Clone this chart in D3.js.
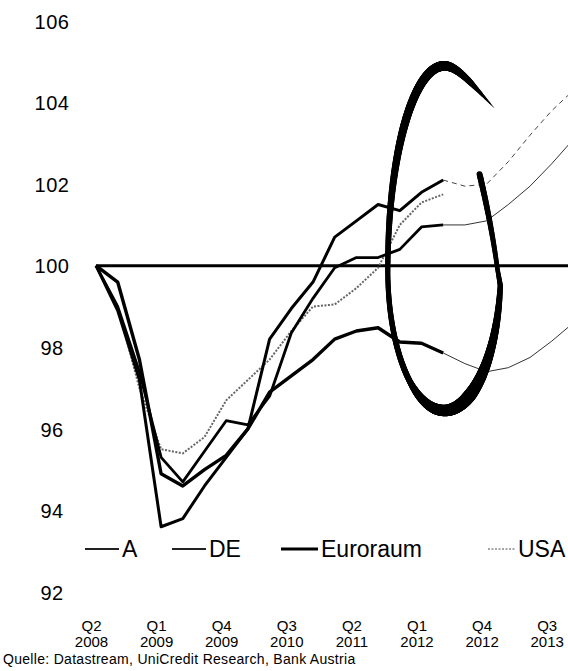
<!DOCTYPE html>
<html>
<head>
<meta charset="utf-8">
<script src="https://cdn.jsdelivr.net/npm/d3@7"></script>
<style>
  body { margin: 0; background: #fff; }
  svg { display: block; }
  text { font-family: "Liberation Sans", Arial, sans-serif; fill: #000; }
</style>
</head>
<body>
<svg id="chart" width="568" height="671"></svg>
<script>
// quarters, Q2 2008 = 100
const quarters = ["Q2 2008","Q3 2008","Q4 2008","Q1 2009","Q2 2009","Q3 2009","Q4 2009",
  "Q1 2010","Q2 2010","Q3 2010","Q4 2010","Q1 2011","Q2 2011","Q3 2011","Q4 2011",
  "Q1 2012","Q2 2012","Q3 2012","Q4 2012","Q1 2013","Q2 2013","Q3 2013","Q4 2013"];
const tickQuarters = ["Q2 2008","Q1 2009","Q4 2009","Q3 2010","Q2 2011","Q1 2012","Q4 2012","Q3 2013"];
const yTicks = [92, 94, 96, 98, 100, 102, 104, 106];

// actual values Q2 2008 .. Q2 2012
const valA   = [100, 99.0, 97.4, 95.3, 94.7, 95.45, 96.2, 96.1, 96.8, 98.35, 99.2, 99.95, 100.2, 100.2, 100.4, 100.95, 101.0];
const valDE  = [100, 98.9, 97.2, 93.6, 93.8, 94.6, 95.3, 96.0, 98.2, 98.95, 99.6, 100.7, 101.1, 101.5, 101.35, 101.8, 102.1];
const valEU  = [100, 99.6, 97.7, 94.9, 94.6, 95.0, 95.35, 96.0, 96.9, 97.3, 97.7, 98.2, 98.4, 98.48, 98.13, 98.1, 97.86];
const valUSA = [100, 99.0, 97.0, 95.5, 95.4, 95.8, 96.7, 97.2, 97.7, 98.4, 99.0, 99.05, 99.45, 99.95, 101.0, 101.55, 101.75];

// forecasts Q2 2012 .. Q4 2013
const fcA  = [101.0, 101.0, 101.1, 101.5, 101.95, 102.5, 103.1];
const fcDE = [102.1, 101.95, 102.0, 102.55, 103.2, 103.8, 104.3];
const fcEU = [97.86, 97.6, 97.4, 97.5, 97.75, 98.15, 98.6];

const legendNames = ["A", "DE", "Euroraum", "USA"];
const source = "Quelle: Datastream, UniCredit Research, Bank Austria";

const svg = d3.select('#chart');
const x = d3.scalePoint().domain(quarters).range([96, 573.4]);
const y = d3.scaleLinear().domain([92, 106]).range([592, 21]);

const line = d3.line().x(d => x(d[0])).y(d => y(d[1]));
const pairs = (vals, start) => vals.map((v, i) => [quarters[start + i], v]);

// y axis labels (centred)
const yAxis = svg.append('g')
  .attr('transform', 'translate(52,0)')
  .call(d3.axisLeft(y).tickValues(yTicks).tickSize(0).tickPadding(0));
yAxis.select('.domain').remove();
yAxis.attr('font-family', null).attr('font-size', 20).attr('text-anchor', 'middle');
yAxis.selectAll('text').attr('x', 0).attr('dy', '0.36em').attr('letter-spacing', '0.5px');

// x axis labels, two lines
const xAxis = svg.append('g')
  .attr('transform', 'translate(0,612)')
  .call(d3.axisBottom(x).tickValues(tickQuarters).tickSize(0).tickPadding(0));
xAxis.select('.domain').remove();
xAxis.attr('font-family', null).attr('font-size', 15);
xAxis.selectAll('text').attr('dy', null).text(null).each(function(d) {
  const parts = d.split(' ');
  const t = d3.select(this);
  t.append('tspan').attr('x', -5).attr('y', 19).text(parts[0]);
  t.append('tspan').attr('x', -5).attr('y', 35).text(parts[1]);
});

// 100 reference line
svg.append('line')
  .attr('x1', x(quarters[0])).attr('x2', 568)
  .attr('y1', y(100)).attr('y2', y(100))
  .attr('stroke', '#000').attr('stroke-width', 3);

// forecasts (thin)
svg.append('path').datum(pairs(fcEU, 16)).attr('d', line)
  .attr('fill', 'none').attr('stroke', '#333').attr('stroke-width', 1);
svg.append('path').datum(pairs(fcA, 16)).attr('d', line)
  .attr('fill', 'none').attr('stroke', '#333').attr('stroke-width', 1);
svg.append('path').datum(pairs(fcDE, 16)).attr('d', line)
  .attr('fill', 'none').attr('stroke', '#444').attr('stroke-width', 1)
  .attr('stroke-dasharray', '5,4');

// actual series
svg.append('path').datum(pairs(valUSA, 0)).attr('d', line)
  .attr('fill', 'none').attr('stroke', '#666').attr('stroke-width', 2)
  .attr('stroke-dasharray', '2,1.5');
svg.append('path').datum(pairs(valEU, 0)).attr('d', line)
  .attr('fill', 'none').attr('stroke', '#000').attr('stroke-width', 3.4)
  .attr('stroke-linejoin', 'round');
svg.append('path').datum(pairs(valA, 0)).attr('d', line)
  .attr('fill', 'none').attr('stroke', '#000').attr('stroke-width', 2.8)
  .attr('stroke-linejoin', 'round');
svg.append('path').datum(pairs(valDE, 0)).attr('d', line)
  .attr('fill', 'none').attr('stroke', '#000').attr('stroke-width', 3)
  .attr('stroke-linejoin', 'round');

// the brush-stroke ring around the latest data, drawn as short round-capped pieces
function drawRing() {
  const cx = x(quarters[16]) + 1, cy = y(99.9);
  const rx = x.step() * 2.6;
  const ryT = y(99.9) - y(104.9), ryB = y(96.45) - y(99.9);
  const th0 = 0.65, th1 = -5.2;
  const wScale = d3.scaleLinear()
    .domain([-5.2, -5.0, -4.7, -4.2, -3.6, -3.0, -2.5, -1.6, -0.8, 0, 0.4, 0.65])
    .range([6, 5.5, 4.5, 8, 13, 11, 6, 5, 8, 10, 6, 0.5]);
  const curl = d3.scaleLinear().domain([-5.2, -4.6]).range([0.71, 1]).clamp(true);
  const N = 500;
  const pts = d3.range(N + 1).map(k => {
    const th = th0 + (th1 - th0) * k / N;
    const s = Math.sin(th), c = Math.cos(th);
    const flare = th > 0 ? 1 + 0.45 * Math.pow(th / th0, 2) : 1;
    return {
      x: cx + rx * s * curl(th) * flare,
      y: cy - (c > 0 ? ryT : ryB) * c,
      w: wScale(th)
    };
  });
  svg.append('g').selectAll('line')
    .data(d3.pairs(pts))
    .join('line')
    .attr('x1', d => d[0].x).attr('y1', d => d[0].y)
    .attr('x2', d => d[1].x).attr('y2', d => d[1].y)
    .attr('stroke', '#000')
    .attr('stroke-width', d => (d[0].w + d[1].w) / 2)
    .attr('stroke-linecap', 'round');
}
drawRing();

// legend
const legendLayout = [
  { x0: 85, x1: 119, tx: 122, w: 2.2, color: '#222', dash: null },
  { x0: 172, x1: 206, tx: 209, w: 2.2, color: '#222', dash: null },
  { x0: 281, x1: 318, tx: 321, w: 3, color: '#000', dash: null },
  { x0: 488, x1: 515, tx: 518, w: 1.5, color: '#888', dash: '2,1.5' }
];
const legend = svg.append('g');
legendNames.forEach((name, i) => {
  const L = legendLayout[i];
  legend.append('line')
    .attr('x1', L.x0).attr('x2', L.x1).attr('y1', 549).attr('y2', 549)
    .attr('stroke', L.color).attr('stroke-width', L.w)
    .attr('stroke-dasharray', L.dash);
  legend.append('text')
    .attr('x', L.tx).attr('y', 557)
    .attr('font-size', 23)
    .text(name);
});

// source note
svg.append('text')
  .attr('x', 3).attr('y', 664)
  .attr('font-size', 14)
  .attr('letter-spacing', '0.3px')
  .text(source);
</script>
</body>
</html>
